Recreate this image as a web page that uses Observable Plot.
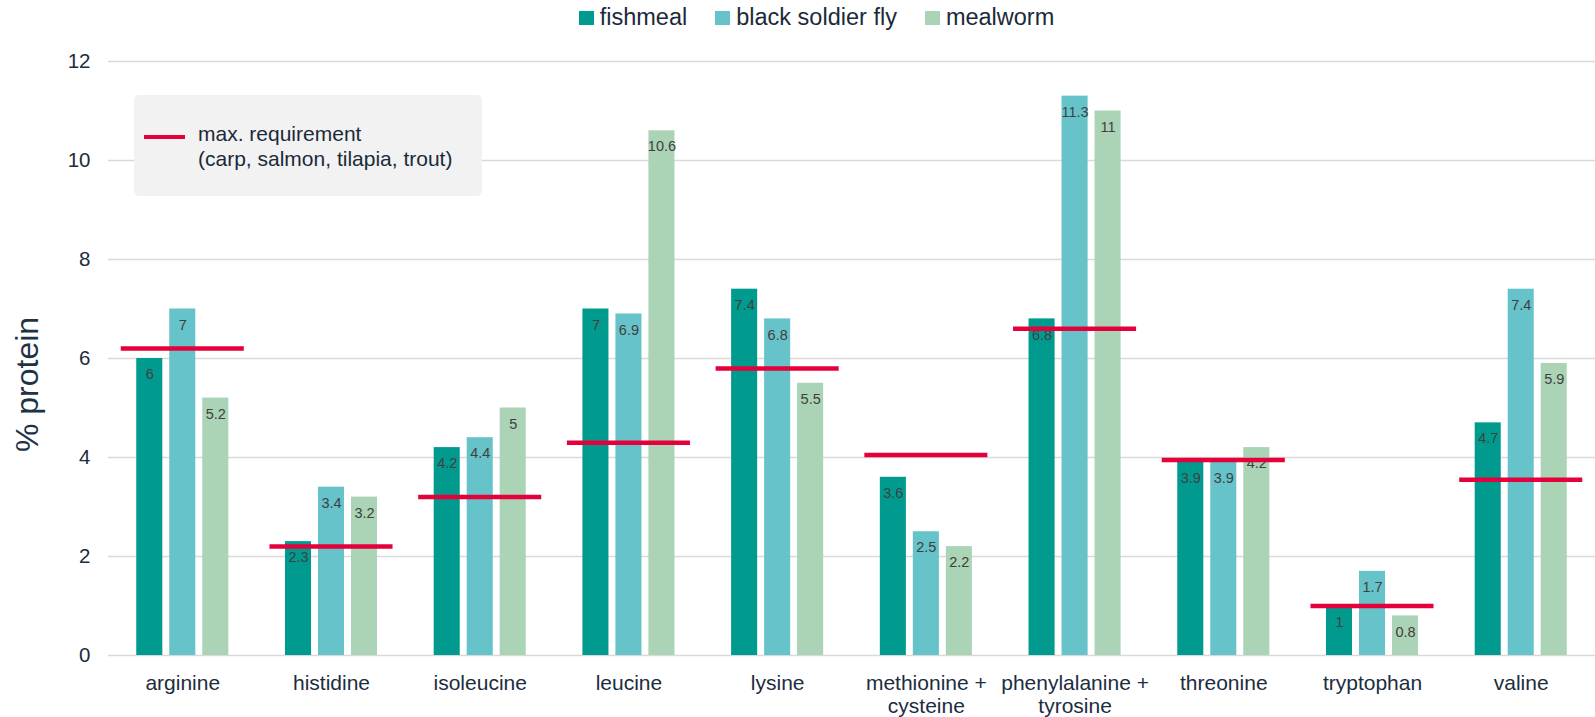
<!DOCTYPE html>
<html><head><meta charset="utf-8">
<script src="https://cdn.jsdelivr.net/npm/d3@7"></script>
<script src="https://cdn.jsdelivr.net/npm/@observablehq/plot@0.6"></script>
<style>
body{margin:0;background:#fff;font-family:"Liberation Sans",Arial,sans-serif;}
#wrap{position:relative;width:1595px;height:717px;overflow:hidden;}
#legend{height:35px;display:flex;justify-content:center;align-items:center;padding-left:38px;box-sizing:border-box;font-size:23.5px;color:#1b2a3a;}
#legend .item{display:flex;align-items:center;margin:0 14px;}
#legend .sw{width:15px;height:14px;margin-right:6px;}
#box{position:absolute;left:134px;top:95px;width:348px;height:101px;background:#f2f2f2;border-radius:5px;}
#box .line{position:absolute;left:10px;top:40px;width:41px;height:4px;background:#E4003B;}
#box .txt{position:absolute;left:64px;top:26px;font-size:21px;line-height:25px;color:#1b2a3a;white-space:pre;}
svg{display:block;}
</style></head><body>
<div id="wrap">
<div id="legend"></div>
<div id="chart"></div>
<div id="box"><div class="line"></div><div class="txt" id="boxtxt"></div></div>
</div>
<script>
const categories = ["arginine","histidine","isoleucine","leucine","lysine","methionine + cysteine","phenylalanine + tyrosine","threonine","tryptophan","valine"];
const xTickLabels = ["arginine","histidine","isoleucine","leucine","lysine","methionine +\ncysteine","phenylalanine +\ntyrosine","threonine","tryptophan","valine"];
const seriesNames = ["fishmeal","black soldier fly","mealworm"];
const fishmeal = [6, 2.3, 4.2, 7, 7.4, 3.6, 6.8, 3.9, 1, 4.7];
const blackSoldierFly = [7, 3.4, 4.4, 6.9, 6.8, 2.5, 11.3, 3.9, 1.7, 7.4];
const mealworm = [5.2, 3.2, 5, 10.6, 5.5, 2.2, 11, 4.2, 0.8, 5.9];
const maxRequirement = [6.2, 2.2, 3.2, 4.3, 5.8, 4.05, 6.6, 3.95, 1.0, 3.55];
const requirementLabel = "max. requirement\n(carp, salmon, tilapia, trout)";
const yTicks = [0, 2, 4, 6, 8, 10, 12];
const yLabel = "% protein";
const colors = ["#009B8E", "#66C3C9", "#ABD3B5"];

const seriesValues = [fishmeal, blackSoldierFly, mealworm];
const tickLabelMap = new Map(categories.map((c, i) => [c, xTickLabels[i]]));

// legend
const legend = document.getElementById("legend");
seriesNames.forEach((s, i) => {
  const it = document.createElement("div"); it.className = "item";
  const sw = document.createElement("div"); sw.className = "sw"; sw.style.background = colors[i];
  const tx = document.createElement("span"); tx.textContent = s;
  it.appendChild(sw); it.appendChild(tx); legend.appendChild(it);
});
document.getElementById("boxtxt").textContent = requirementLabel;

const barW = 26, barGap = 7, groupW = 3 * barW + 2 * barGap;
const textColor = "#1c2d3e";

const barMarks = [];
const labelMarks = [];
seriesValues.forEach((vals, i) => {
  const rows = categories.map((c, j) => ({category: c, value: vals[j], series: seriesNames[i]}));
  barMarks.push(Plot.barY(rows, {
    x: "category", y: "value", fill: colors[i],
    insetLeft: i * (barW + barGap), insetRight: groupW - barW - i * (barW + barGap)
  }));
  labelMarks.push(Plot.text(rows, {
    x: "category", y: "value", text: d => String(d.value),
    dx: -groupW / 2 + barW / 2 + i * (barW + barGap), dy: 16,
    fill: "#404040", fontSize: 14.5
  }));
});
const reqRows = categories.map((c, j) => ({category: c, value: maxRequirement[j]}));

const chart = Plot.plot({
  width: 1595,
  height: 682,
  marginLeft: 108,
  marginRight: 0,
  marginTop: 26,
  marginBottom: 62,
  style: {fontFamily: "'Liberation Sans', Arial, sans-serif", background: "#fff", color: textColor},
  x: {domain: categories, paddingInner: 0.381, paddingOuter: 0.19, round: false, label: null},
  y: {domain: [0, 12], label: null},
  marks: [
    Plot.gridY(yTicks, {stroke: "#d9d9d9", strokeOpacity: 1, strokeWidth: 1.5}),
    ...barMarks,
    ...labelMarks,
    Plot.tickY(reqRows, {x: "category", y: "value", stroke: "#E4003B", strokeWidth: 4.5, insetLeft: -15.5, insetRight: -15.5}),
    Plot.axisX({tickSize: 0, tickPadding: 18, fontSize: 21, label: null, fill: textColor, tickFormat: d => tickLabelMap.get(d), lineHeight: 1.1}),
    Plot.axisY({ticks: yTicks, tickSize: 0, tickPadding: 18, fontSize: 20.5, label: null, fill: textColor}),
    Plot.text([yLabel], {text: d => d, frameAnchor: "left", rotate: -90, dx: -81, dy: 26, fontSize: 32, fill: "#1d3346", textAnchor: "middle"})
  ]
});
document.getElementById("chart").appendChild(chart);
</script>
</body></html>
